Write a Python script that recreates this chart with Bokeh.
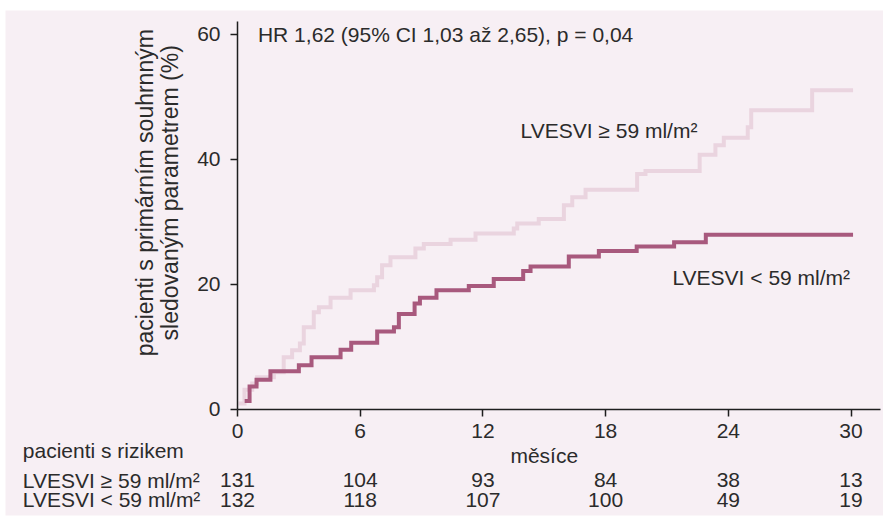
import math
from bokeh.plotting import figure
from bokeh.models import ColumnDataSource, Label, LabelSet, FixedTicker
from bokeh.core.properties import value
from bokeh.embed import file_html
from bokeh.resources import INLINE

# ---------------- data ----------------
# LVESVI >= 59 ml/m2 : step times (months) and cumulative event rate (%)
hi_t = [0.05, 0.34, 0.72, 0.96, 1.78, 2.26, 2.67, 3.05, 3.24, 3.73, 3.98, 4.55,
        5.53, 6.67, 6.83, 7.07, 7.48, 8.70, 9.11, 10.42, 11.64, 13.51, 13.68,
        14.73, 15.96, 16.37, 17.02, 19.54, 19.95, 22.6, 23.37, 23.78, 24.95,
        25.12, 28.1]
hi_pct = [0.9, 3.1, 4.1, 5.1, 5.9, 8.3, 9.4, 10.5, 13.1, 15.5, 16.3, 17.8,
          19.0, 19.8, 21.1, 23.0, 24.3, 25.7, 26.4, 27.1, 28.1, 28.9, 29.7,
          30.4, 32.6, 33.9, 35.1, 37.6, 38.1, 40.7, 42.2, 43.4, 45.1,
          47.8, 51.0]
# LVESVI < 59 ml/m2
lo_t = [0.35, 0.59, 0.93, 1.61, 3.0, 3.62, 5.04, 5.56, 6.83, 7.65, 7.89, 8.66,
        8.92, 9.73, 11.31, 12.53, 13.97, 14.33, 16.2, 17.67, 19.52, 21.35, 22.9]
lo_pct = [1.3, 3.6, 4.7, 6.05, 7.0, 8.3, 9.5, 10.6, 12.4, 13.1, 15.2, 16.9,
          17.8, 19.0, 19.7, 20.8, 22.1, 22.8, 24.4, 25.3, 26.0, 26.7, 27.9]
follow_up_end = 30.1

x_ticks = [0, 6, 12, 18, 24, 30]
y_ticks = [0, 20, 40, 60]

risk_months = [0, 6, 12, 18, 24, 30]
risk_hi = [131, 104, 93, 84, 38, 13]
risk_lo = [132, 118, 107, 100, 49, 19]

label_hi = "LVESVI \u2265 59 ml/m\u00b2"
label_lo = "LVESVI < 59 ml/m\u00b2"
hr_text = "HR 1,62 (95% CI 1,03 a\u017e 2,65), p = 0,04"
ylabel_lines = ["pacienti s prim\u00e1rn\u00edm souhrnn\u00fdm", "sledovan\u00fdm parametrem (%)"]
xlabel = "m\u011bs\u00edce"
risk_title = "pacienti s rizikem"

# ---------------- style ----------------
BG = "#f7eff4"
DARK = "#a8597d"
LIGHT = "#ead4df"
TXT = "#2b2b2b"
AX = "#1e1e1e"
FONT = "Liberation Sans"
FS = "21px"

W, H = 883, 519
p = figure(width=W, height=H, output_backend="svg", toolbar_location=None,
           x_range=(-11.345, 31.589), y_range=(-17.04, 63.76),
           min_border_left=5, min_border_right=0, min_border_top=10,
           min_border_bottom=4)
p.background_fill_color = BG
p.border_fill_color = "white"
p.outline_line_color = None
p.grid.visible = False

for ax in (p.xaxis[0], p.yaxis[0]):
    ax.fixed_location = 0
    ax.axis_line_color = AX
    ax.axis_line_width = 1.5
    ax.major_tick_line_color = AX
    ax.major_tick_line_width = 1.5
    ax.major_tick_out = 7
    ax.major_tick_in = 0
    ax.minor_tick_line_color = None
    ax.major_label_text_font = FONT
    ax.major_label_text_font_size = FS
    ax.major_label_text_color = TXT
p.xaxis.ticker = FixedTicker(ticks=x_ticks)
p.yaxis.ticker = FixedTicker(ticks=y_ticks)
p.xaxis.bounds = (0, 31.44)
p.yaxis.bounds = (0, 62.0)
p.xaxis.major_label_standoff = 8
p.yaxis.major_label_standoff = 10

# curves
hx = hi_t + [follow_up_end]
hy = hi_pct + [hi_pct[-1]]
lx = lo_t + [follow_up_end]
ly = lo_pct + [lo_pct[-1]]
p.step(hx, hy, mode="after", line_color=LIGHT, line_width=4, line_join="miter")
p.step(lx, ly, mode="after", line_color=DARK, line_width=4, line_join="miter")

def lab(x, y, text, align="left", angle=0.0, size=FS):
    p.add_layout(Label(x=x, y=y, text=text, text_font=FONT, text_font_size=size,
                       text_color=TXT, text_align=align, text_baseline="middle",
                       angle=angle))

lab(1.0, 60.0, hr_text)
lab(13.84, 44.6, label_hi)
lab(21.27, 21.1, label_lo)

# y axis title (two lines)
lab(-4.5, 34.6, ylabel_lines[0], align="center", angle=math.pi / 2, size="23px")
lab(-3.28, 34.6, ylabel_lines[1], align="center", angle=math.pi / 2, size="23px")

# x title and at-risk table
lab(15, -7.4, xlabel, align="center")
lab(-10.5, -6.6, risk_title)
lab(-10.5, -11.4, label_hi)
lab(-10.5, -14.5, label_lo)

src = ColumnDataSource(dict(x=risk_months,
                            hi=[str(v) for v in risk_hi],
                            lo=[str(v) for v in risk_lo]))
for col, yy in (("hi", -11.4), ("lo", -14.5)):
    p.add_layout(LabelSet(x="x", y=yy, text=col, source=src,
                          text_font=value(FONT), text_font_size=value(FS),
                          text_color=TXT, text_align="center",
                          text_baseline="middle"))

open("out.html", "w").write(file_html(p, INLINE))
